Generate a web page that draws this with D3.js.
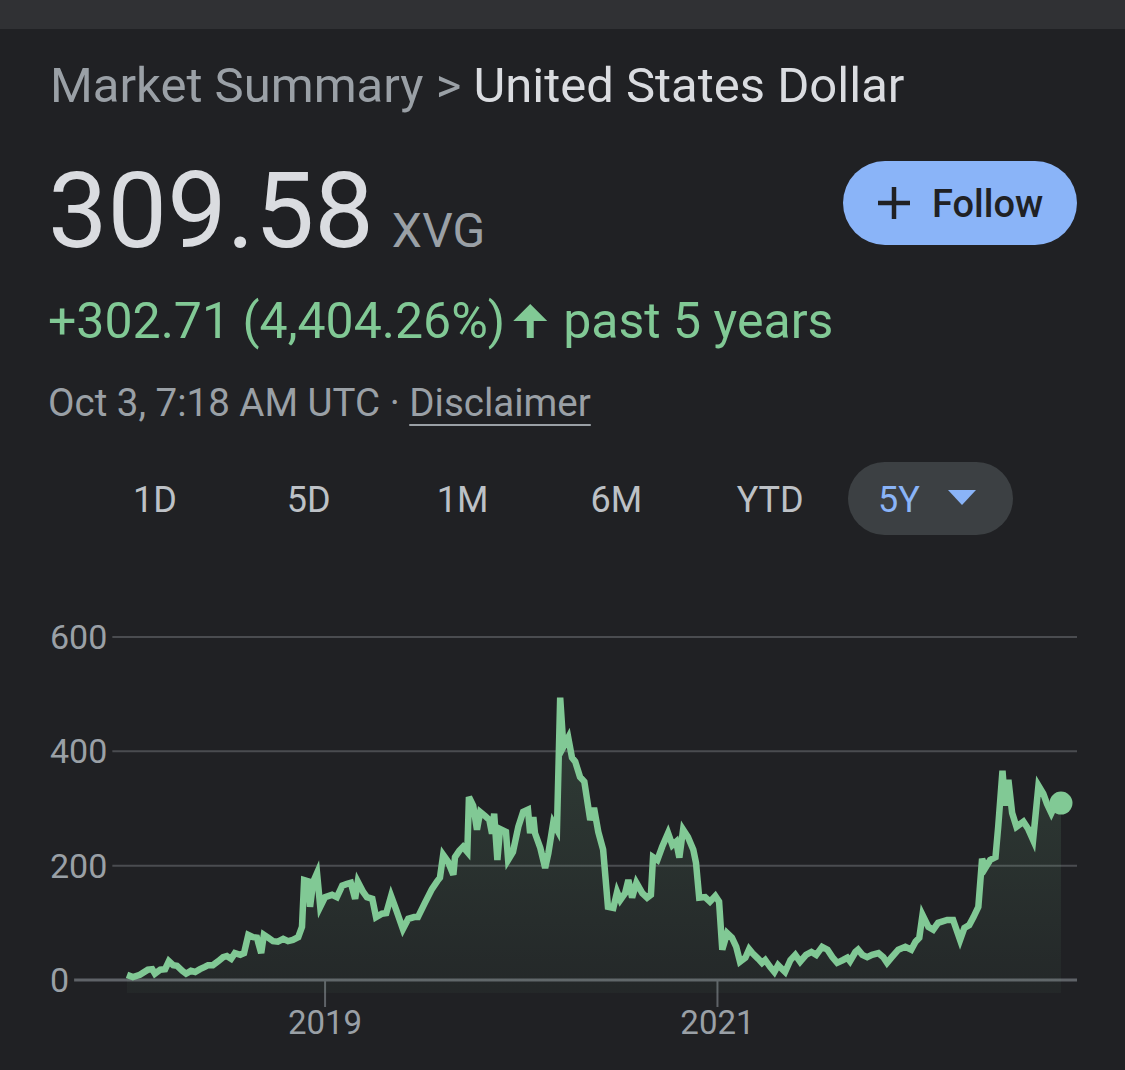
<!DOCTYPE html>
<html>
<head>
<meta charset="utf-8">
<script src="https://cdn.jsdelivr.net/npm/d3@7"></script>
<style>
  body { margin: 0; background: #202124; }
  text { font-family: Roboto, "Liberation Sans", sans-serif; }
</style>
</head>
<body>
<div id="chart"></div>
<script>
// weekly-ish closes
const dates = [
  "2017-12-28","2018-01-08","2018-01-21","2018-02-05","2018-02-13","2018-02-18","2018-02-28","2018-03-09",
  "2018-03-16","2018-03-24","2018-03-31","2018-04-10","2018-04-17","2018-04-26","2018-05-04","2018-05-13",
  "2018-05-22","2018-05-28","2018-06-06","2018-06-16","2018-06-25","2018-07-02","2018-07-10","2018-07-17",
  "2018-07-27","2018-08-03","2018-08-11","2018-08-20","2018-08-27","2018-09-04","2018-09-09","2018-09-17",
  "2018-09-26","2018-10-05","2018-10-15","2018-10-24","2018-11-02","2018-11-12","2018-11-19","2018-11-23",
  "2018-11-30","2018-12-04","2018-12-10","2018-12-17","2018-12-23","2019-01-01","2019-01-14","2019-01-23",
  "2019-02-02","2019-02-11","2019-02-18","2019-02-26","2019-03-03","2019-03-13","2019-03-20","2019-03-30",
  "2019-04-06","2019-04-17","2019-04-25","2019-05-04","2019-05-13","2019-05-26","2019-06-05","2019-06-16",
  "2019-06-23","2019-07-06","2019-07-19","2019-07-29","2019-08-03","2019-08-09","2019-08-18","2019-08-28",
  "2019-08-31","2019-09-08","2019-09-15","2019-09-23","2019-09-26","2019-10-04","2019-10-11","2019-10-17",
  "2019-10-26","2019-11-03","2019-11-08","2019-11-12","2019-11-18","2019-11-23","2019-12-04","2019-12-08",
  "2019-12-17","2019-12-27","2020-01-05","2020-01-14","2020-01-18","2020-01-24","2020-01-27","2020-02-06",
  "2020-02-15","2020-02-21","2020-03-01","2020-03-08","2020-03-14","2020-03-20","2020-03-29","2020-04-05",
  "2020-04-11","2020-04-20","2020-04-28","2020-05-09","2020-05-16","2020-05-24","2020-06-02","2020-06-11",
  "2020-06-21","2020-06-28","2020-07-04","2020-07-13","2020-07-19","2020-07-26","2020-08-03","2020-08-14",
  "2020-08-23","2020-08-30","2020-09-03","2020-09-11","2020-09-20","2020-10-01","2020-10-09","2020-10-16",
  "2020-10-22","2020-10-29","2020-11-07","2020-11-17","2020-11-22","2020-11-28","2020-12-09","2020-12-18",
  "2020-12-28","2021-01-04","2021-01-10","2021-01-19","2021-01-28","2021-02-05","2021-02-12","2021-02-22",
  "2021-03-01","2021-03-07","2021-03-18","2021-03-25","2021-03-31","2021-04-09","2021-04-17","2021-04-24",
  "2021-05-07","2021-05-17","2021-05-26","2021-06-04","2021-06-15","2021-06-25","2021-07-04","2021-07-15",
  "2021-07-25","2021-08-03","2021-08-12","2021-08-23","2021-08-31","2021-09-05","2021-09-15","2021-09-20",
  "2021-09-28","2021-10-07","2021-10-16","2021-10-28","2021-11-06","2021-11-13","2021-11-21","2021-12-04",
  "2021-12-17","2021-12-28","2022-01-05","2022-01-12","2022-01-18","2022-01-29","2022-02-07","2022-02-16",
  "2022-03-05","2022-03-16","2022-03-29","2022-04-06","2022-04-15","2022-04-23","2022-05-02","2022-05-09",
  "2022-05-15","2022-05-24","2022-06-03","2022-06-08","2022-06-16","2022-06-21","2022-06-27","2022-07-04",
  "2022-07-12","2022-07-25","2022-08-03","2022-08-12","2022-08-22","2022-08-31","2022-09-07","2022-09-15",
  "2022-09-22","2022-10-03"
];
const prices = [
  9,5,9,18,19,11,18,19,
  33,26,25,16,11,16,14,19,
  23,26,26,33,40,42,37,47,
  44,47,79,75,74,47,79,74,
  68,67,72,68,70,75,93,175,
  173,128,172,187,128,145,149,145,
  165,168,170,142,172,154,145,142,
  110,116,117,147,124,89,107,110,
  110,135,159,173,179,219,207,184,
  215,226,233,224,320,305,263,294,
  287,280,256,291,210,264,259,210,
  224,268,294,298,257,285,257,231,
  196,222,275,263,494,408,424,389,
  382,355,347,280,301,259,228,128,
  126,154,140,152,175,144,170,152,
  144,149,215,210,233,257,236,242,
  214,263,250,228,205,144,145,137,
  147,137,53,82,74,58,32,39,
  54,47,37,30,35,23,14,26,
  14,35,44,32,44,49,44,58,
  53,40,30,35,39,33,49,53,
  44,40,44,47,40,30,39,53,
  58,53,67,74,114,93,88,100,
  105,105,70,91,96,110,128,212,
  196,210,215,268,366,305,350,292,
  268,277,264,245,340,326,308,292,
  306,309.58
];
const yTicks = [0, 200, 400, 600];
const xTicks = ["2019-01-01", "2021-01-01"];
const ranges = ["1D", "5D", "1M", "6M", "YTD", "5Y"];
const activeRange = "5Y";

const W = 1125, H = 1070;
const green = "#81c995", grey = "#9aa0a6", light = "#dadce0", blue = "#8ab4f8";

const svg = d3.select("#chart").append("svg")
  .attr("width", W).attr("height", H);

svg.append("rect").attr("width", W).attr("height", H).attr("fill", "#202124");
// top strip of the page
svg.append("rect").attr("width", W).attr("height", 29).attr("fill", "#303134");

// ---- header ----
const title = svg.append("text").attr("x", 50).attr("y", 102).attr("font-size", 49);
title.append("tspan").attr("fill", grey).text("Market Summary > ");
title.append("tspan").attr("fill", light).text("United States Dollar");

const price = svg.append("text").attr("x", 48).attr("y", 247)
  .attr("font-size", 106).attr("fill", light).text("309.58");
const pw = price.node().getComputedTextLength();
svg.append("text").attr("x", 48 + pw + 18).attr("y", 247)
  .attr("font-size", 48).attr("fill", grey).text("XVG");

// follow button
const follow = svg.append("g").attr("transform", "translate(843,161)");
follow.append("rect").attr("width", 234).attr("height", 84).attr("rx", 42).attr("fill", blue);
follow.append("path").attr("d", "M35,42H67M51,26V58").attr("stroke", "#202124").attr("stroke-width", 4.5);
follow.append("text").attr("x", 89).attr("y", 56).attr("font-size", 38).attr("font-weight", 500)
  .attr("fill", "#202124").text("Follow");

// change line
const chg = svg.append("text").attr("x", 48).attr("y", 338).attr("font-size", 50).attr("fill", green)
  .text("+302.71 (4,404.26%)");
const cw = chg.node().getComputedTextLength();
const ax = 48 + cw + 25;
svg.append("path")
  .attr("d", `M${ax},304 L${ax + 17},321 L${ax + 3.5},321 L${ax + 3.5},338 L${ax - 3.5},338 L${ax - 3.5},321 L${ax - 17},321 Z`)
  .attr("fill", green);
svg.append("text").attr("x", ax + 33).attr("y", 338).attr("font-size", 50).attr("fill", green)
  .text("past 5 years");

// timestamp
const stamp = svg.append("text").attr("x", 48).attr("y", 416).attr("font-size", 38.5).attr("fill", grey);
stamp.append("tspan").text("Oct 3, 7:18 AM UTC · ");
const disc = stamp.append("tspan").text("Disclaimer");
const stampW = stamp.node().getComputedTextLength();
const discW = disc.node().getComputedTextLength();
svg.append("line")
  .attr("x1", 48 + stampW - discW).attr("x2", 48 + stampW)
  .attr("y1", 425).attr("y2", 425)
  .attr("stroke", grey).attr("stroke-width", 2);

// range tabs
const tabX = d3.scalePoint().domain(ranges).range([155, 770 + 154]);
const tabs = svg.append("g");
tabs.append("rect").attr("x", 848).attr("y", 462).attr("width", 165).attr("height", 73)
  .attr("rx", 36.5).attr("fill", "#3c4043");
ranges.forEach(r => {
  if (r === activeRange) {
    tabs.append("text").attr("x", 878).attr("y", 512).attr("font-size", 36)
      .attr("fill", blue).text(r);
    tabs.append("path").attr("d", "M948,490L976,490L962,505Z").attr("fill", blue);
  } else {
    tabs.append("text").attr("x", tabX(r)).attr("y", 512).attr("font-size", 36)
      .attr("text-anchor", "middle").attr("fill", "#bdc1c6").text(r);
  }
});

// ---- chart ----
const parse = d3.utcParse("%Y-%m-%d");
const data = dates.map((d, i) => ({ date: parse(d), value: prices[i] }));

const x = d3.scaleUtc()
  .domain(d3.extent(data, d => d.date))
  .range([127, 1061]);
const y = d3.scaleLinear().domain([0, 600]).range([980, 637]);
const gridRight = 1077;

// y labels + gridlines starting right after each label
const yAxis = svg.append("g");
yTicks.forEach(t => {
  const lbl = yAxis.append("text").attr("x", 50).attr("y", y(t) + 12)
    .attr("font-size", 34).attr("fill", grey).text(t);
  const lw = lbl.node().getComputedTextLength();
  yAxis.append("line")
    .attr("x1", 50 + lw + 5).attr("x2", gridRight)
    .attr("y1", y(t)).attr("y2", y(t))
    .attr("stroke", t === 0 ? "#5f6368" : "#4a4c50")
    .attr("stroke-width", t === 0 ? 3 : 2);
});

// x ticks
const xAxis = svg.append("g");
xTicks.forEach(t => {
  const xx = x(parse(t));
  xAxis.append("line").attr("x1", xx).attr("x2", xx).attr("y1", y(0)).attr("y2", y(0) + 27)
    .attr("stroke", "#5f6368").attr("stroke-width", 2);
  xAxis.append("text").attr("x", xx).attr("y", 1034).attr("text-anchor", "middle")
    .attr("font-size", 33).attr("fill", grey).text(t.slice(0, 4));
});

// area under the line
const grad = svg.append("defs").append("linearGradient")
  .attr("id", "fade").attr("gradientUnits", "userSpaceOnUse")
  .attr("x1", 0).attr("x2", 0).attr("y1", y(500)).attr("y2", y(0) + 13);
grad.append("stop").attr("offset", 0).attr("stop-color", green).attr("stop-opacity", 0.17);
grad.append("stop").attr("offset", 1).attr("stop-color", green).attr("stop-opacity", 0.04);

const area = d3.area()
  .x(d => x(d.date))
  .y0(y(0) + 13)
  .y1(d => y(d.value));
svg.append("path").datum(data).attr("d", area).attr("fill", "url(#fade)");

const line = d3.line()
  .x(d => x(d.date))
  .y(d => y(d.value));
svg.append("path").datum(data).attr("d", line)
  .attr("fill", "none").attr("stroke", green).attr("stroke-width", 6.5)
  .attr("stroke-linejoin", "miter");

const last = data[data.length - 1];
svg.append("circle").attr("cx", x(last.date)).attr("cy", y(last.value))
  .attr("r", 11.5).attr("fill", green);
</script>
</body>
</html>
